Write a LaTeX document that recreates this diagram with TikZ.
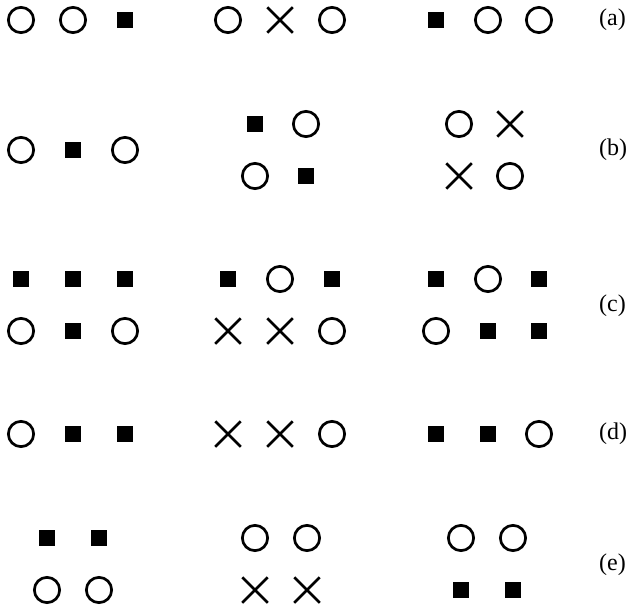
\documentclass[tikz,border=0pt]{standalone}
\usepackage{fontspec}
\setmainfont{Liberation Serif}
\usetikzlibrary{shapes.misc,positioning}

\begin{document}
\begin{tikzpicture}[
    x=1pt, y=-1pt,
    opencirc/.style={circle, draw=black, line width=2.7pt, minimum size=25.3pt, inner sep=0pt},
    fillsq/.style={rectangle, fill=black, minimum size=16pt, inner sep=0pt},
    crossx/.style={cross out, draw=black, line width=2.5pt, minimum size=23pt, inner sep=0pt},
    tag/.style={font=\fontsize{24}{26}\selectfont, anchor=west, inner sep=0pt}
]
\useasboundingbox (0,0) rectangle (634,610);

% Row (a)
\node[opencirc] (a1) at (21,20) {};
\node[opencirc] (a2) at (73,20) {};
\node[fillsq] (a3) at (125,20) {};
\node[opencirc] (a4) at (228,20) {};
\node[crossx] (a5) at (280,20) {};
\node[opencirc] (a6) at (332,20) {};
\node[fillsq] (a7) at (436,20) {};
\node[opencirc] (a8) at (488,20) {};
\node[opencirc] (a9) at (539,20) {};
\node[tag] (la) at (599,20) {(a)};

% Row (b)
\node[opencirc] (b1) at (21,150) {};
\node[fillsq] (b2) at (73,150) {};
\node[opencirc] (b3) at (125,150) {};
\node[fillsq] (b4) at (255,124) {};
\node[opencirc] (b5) at (306,124) {};
\node[opencirc] (b6) at (255,176) {};
\node[fillsq] (b7) at (306,176) {};
\node[opencirc] (b8) at (459,124) {};
\node[crossx] (b9) at (510,124) {};
\node[crossx] (b10) at (459,176) {};
\node[opencirc] (b11) at (510,176) {};
\node[tag] (lb) at (599,150) {(b)};

% Row (c)
\node[fillsq] (c1) at (21,279) {};
\node[fillsq] (c2) at (73,279) {};
\node[fillsq] (c3) at (125,279) {};
\node[opencirc] (c4) at (21,331) {};
\node[fillsq] (c5) at (73,331) {};
\node[opencirc] (c6) at (125,331) {};
\node[fillsq] (c7) at (228,279) {};
\node[opencirc] (c8) at (280,279) {};
\node[fillsq] (c9) at (332,279) {};
\node[crossx] (c10) at (228,331) {};
\node[crossx] (c11) at (280,331) {};
\node[opencirc] (c12) at (332,331) {};
\node[fillsq] (c13) at (436,279) {};
\node[opencirc] (c14) at (488,279) {};
\node[fillsq] (c15) at (539,279) {};
\node[opencirc] (c16) at (436,331) {};
\node[fillsq] (c17) at (488,331) {};
\node[fillsq] (c18) at (539,331) {};
\node[tag] (lc) at (599,306) {(c)};

% Row (d)
\node[opencirc] (d1) at (21,434) {};
\node[fillsq] (d2) at (73,434) {};
\node[fillsq] (d3) at (125,434) {};
\node[crossx] (d4) at (228,434) {};
\node[crossx] (d5) at (280,434) {};
\node[opencirc] (d6) at (332,434) {};
\node[fillsq] (d7) at (436,434) {};
\node[fillsq] (d8) at (488,434) {};
\node[opencirc] (d9) at (539,434) {};
\node[tag] (ld) at (599,434) {(d)};

% Row (e)
\node[fillsq] (e1) at (47,538) {};
\node[fillsq] (e2) at (99,538) {};
\node[opencirc] (e3) at (47,590) {};
\node[opencirc] (e4) at (99,590) {};
\node[opencirc] (e5) at (255,538) {};
\node[opencirc] (e6) at (307,538) {};
\node[crossx] (e7) at (255,590) {};
\node[crossx] (e8) at (307,590) {};
\node[opencirc] (e9) at (461,538) {};
\node[opencirc] (e10) at (513,538) {};
\node[fillsq] (e11) at (461,590) {};
\node[fillsq] (e12) at (513,590) {};
\node[tag] (le) at (599,565) {(e)};

\end{tikzpicture}
\end{document}
